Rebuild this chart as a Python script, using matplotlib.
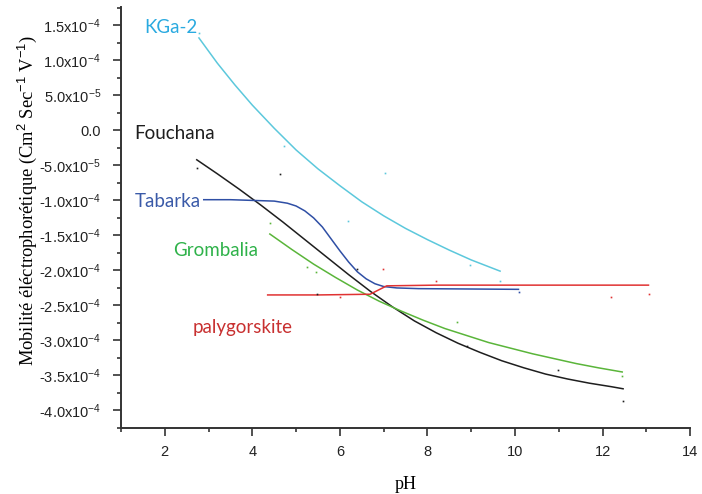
import matplotlib
matplotlib.use('Agg')
import matplotlib.pyplot as plt
from matplotlib.ticker import MultipleLocator, FixedLocator

plt.rcParams['mathtext.fontset'] = 'custom'
plt.rcParams['mathtext.rm'] = 'Liberation Sans'
plt.rcParams['mathtext.it'] = 'Liberation Sans'

# courbes lissées (pH, mobilité en 1e-4 cm2/s/V)
kga_ph = [2.78, 3.2, 3.6, 4.0, 4.5, 5.0, 5.5, 6.0, 6.5, 7.0, 7.5, 8.0, 8.5, 9.0, 9.66]
kga_mu = [1.32, 0.96, 0.65, 0.36, 0.03, -0.28, -0.55, -0.79, -1.02, -1.22, -1.40, -1.56, -1.71, -1.85, -2.01]

fou_ph = [2.73, 3.2, 3.7, 4.2, 4.7, 5.2, 5.7, 6.2, 6.7, 7.2, 7.7, 8.2, 8.7, 9.2, 9.7,
          10.2, 10.7, 11.2, 11.7, 12.2, 12.47]
fou_mu = [-0.42, -0.62, -0.84, -1.07, -1.31, -1.56, -1.81, -2.06, -2.30, -2.52, -2.72, -2.89,
          -3.04, -3.17, -3.29, -3.39, -3.48, -3.55, -3.61, -3.66, -3.69]

tab_ph = [2.89, 3.5, 4.0, 4.5, 4.8, 5.0, 5.2, 5.4, 5.6, 5.8, 6.0, 6.2, 6.4, 6.6, 6.8, 7.0,
          7.3, 7.8, 10.08]
tab_mu = [-0.99, -0.99, -1.0, -1.01, -1.04, -1.08, -1.15, -1.25, -1.38, -1.55, -1.72, -1.88,
          -2.02, -2.12, -2.19, -2.23, -2.25, -2.26, -2.27]

gro_ph = [4.4, 4.9, 5.4, 5.9, 6.4, 6.9, 7.4, 7.9, 8.4, 8.9, 9.4, 9.9, 10.4, 10.9, 11.4, 11.9, 12.45]
gro_mu = [-1.48, -1.70, -1.91, -2.10, -2.28, -2.44, -2.58, -2.71, -2.83, -2.93, -3.03, -3.11,
          -3.19, -3.26, -3.33, -3.39, -3.45]

pal_ph = [4.35, 5.5, 6.69, 7.07, 8.2, 13.05]
pal_mu = [-2.35, -2.35, -2.34, -2.22, -2.21, -2.21]

# points expérimentaux (tout petits)
kga_pts_ph = [2.78, 4.72, 6.18, 7.03, 8.97, 9.66]
kga_pts_mu = [1.39, -0.22, -1.30, -0.61, -1.92, -2.15]
fou_pts_ph = [2.73, 4.63, 5.47, 6.39, 8.91, 10.98, 12.46]
fou_pts_mu = [-0.54, -0.62, -2.33, -1.98, -3.08, -3.42, -3.86]
gro_pts_ph = [4.4, 5.25, 5.45, 8.67, 12.44]
gro_pts_mu = [-1.32, -1.95, -2.02, -2.73, -3.51]
pal_pts_ph = [6.0, 6.98, 8.19, 12.19, 13.06]
pal_pts_mu = [-2.38, -1.98, -2.15, -2.38, -2.33]
tab_pts_ph = [10.09]
tab_pts_mu = [-2.31]

c_kga = '#5cc8dc'
c_fou = '#1e1e1e'
c_tab = '#2f4fa5'
c_gro = '#5ab53a'
c_pal = '#e03232'

fig = plt.figure(figsize=(7.02, 4.94), dpi=100)
ax = fig.add_axes([0.1724, 0.1336, 0.8106, 0.852])

s = 1e-4
ax.plot(kga_ph, [v * s for v in kga_mu], color=c_kga, lw=1.1)
ax.plot(fou_ph, [v * s for v in fou_mu], color=c_fou, lw=1.1)
ax.plot(tab_ph, [v * s for v in tab_mu], color=c_tab, lw=1.1)
ax.plot(gro_ph, [v * s for v in gro_mu], color=c_gro, lw=1.1)
ax.plot(pal_ph, [v * s for v in pal_mu], color=c_pal, lw=1.1)

for xs, ys, c in [(kga_pts_ph, kga_pts_mu, c_kga), (fou_pts_ph, fou_pts_mu, c_fou),
                  (gro_pts_ph, gro_pts_mu, c_gro), (pal_pts_ph, pal_pts_mu, c_pal),
                  (tab_pts_ph, tab_pts_mu, c_tab)]:
    ax.plot(xs, [v * s for v in ys], ls='none', marker='s', ms=1.2, color=c, mew=0)

# étiquettes des courbes
lab_font = ['Lato', 'DejaVu Sans']
fs_lab = 13.5
ax.text(1.54, 1.47e-4, 'KGa-2', color='#2aaae0', fontsize=fs_lab, family=lab_font, va='center')
ax.text(1.31, -0.05e-4, 'Fouchana', color='#1e1e1e', fontsize=fs_lab, family=lab_font, va='center')
ax.text(1.31, -1.01e-4, 'Tabarka', color='#3a5aa8', fontsize=fs_lab, family=lab_font, va='center')
ax.text(2.18, -1.72e-4, 'Grombalia', color='#2fb24a', fontsize=fs_lab, family=lab_font, va='center')
ax.text(2.64, -2.82e-4, 'palygorskite', color='#c83030', fontsize=fs_lab, family=lab_font, va='center')

ax.set_xlim(1, 14)
ax.set_ylim(-4.25e-4, 1.76e-4)

ax.xaxis.set_major_locator(FixedLocator([2, 4, 6, 8, 10, 12, 14]))
ax.xaxis.set_minor_locator(FixedLocator([1, 3, 5, 7, 9, 11, 13]))
ytick_vals = [1.5, 1.0, 0.5, 0.0, -0.5, -1.0, -1.5, -2.0, -2.5, -3.0, -3.5, -4.0]
ytick_labs = ['1.5x10$^{-4}$', '1.0x10$^{-4}$', '5.0x10$^{-5}$', '0.0', '-5.0x10$^{-5}$',
              '-1.0x10$^{-4}$', '-1.5x10$^{-4}$', '-2.0x10$^{-4}$', '-2.5x10$^{-4}$',
              '-3.0x10$^{-4}$', '-3.5x10$^{-4}$', '-4.0x10$^{-4}$']
ax.set_yticks([v * s for v in ytick_vals])
ax.set_yticklabels(ytick_labs)
ax.yaxis.set_minor_locator(MultipleLocator(0.25e-4))

for lab in ax.get_xticklabels() + ax.get_yticklabels():
    lab.set_family('Liberation Sans')
    lab.set_fontsize(10.5)
    lab.set_color('#222222')

ax.tick_params(which='major', direction='out', length=5.5, width=1.2, color='#333333')
ax.tick_params(which='minor', direction='out', length=3, width=1.2, color='#333333')
ax.tick_params(axis='y', which='major', pad=9)
ax.tick_params(axis='x', which='major', pad=7)

ax.spines['top'].set_visible(False)
ax.spines['right'].set_visible(False)
for sp in ['left', 'bottom']:
    ax.spines[sp].set_linewidth(1.4)
    ax.spines[sp].set_color('#333333')

ax.set_xlabel('pH', family='Liberation Serif', fontsize=13, labelpad=12)
ax.set_ylabel('Mobilité éléctrophorétique (Cm$^2$ Sec$^{-1}$ V$^{-1}$)',
              family='Liberation Serif', fontsize=13.3)
ax.yaxis.set_label_coords(-0.145, 0.54)

fig.savefig('out.png', dpi=100)
